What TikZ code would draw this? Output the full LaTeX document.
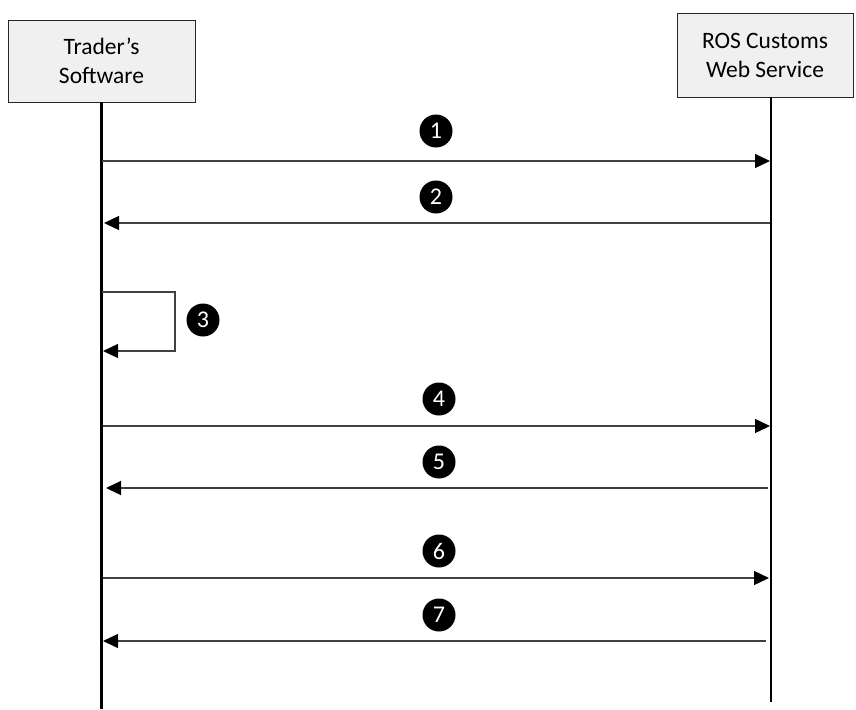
\documentclass[tikz,border=0pt]{standalone}
\usepackage{fontspec}
\setmainfont{Carlito}
\usetikzlibrary{arrows.meta,positioning}

\begin{document}
\begin{tikzpicture}[
    x=1pt, y=-1pt,
    font=\fontsize{23.5}{29}\selectfont,
    actor/.style={draw=black!85, fill=black!6, align=center, inner sep=0pt, line width=0.9pt},
    life/.style={line width=2.6pt},
    msg/.style={draw=black!75, line width=1.3pt, -{Triangle[length=15pt, width=14pt, black]}},
    num/.style={circle, fill=black, text=white, minimum size=33pt, inner sep=0pt,
                font=\fontsize{24}{24}\selectfont},
]
\useasboundingbox (0,0) rectangle (856,709);

% =====================  ACTORS  =====================
\node[actor, minimum width=187pt, minimum height=82pt] (trader) at (101.5,61) {Trader’s\\Software};
\node[actor, minimum width=176pt, minimum height=84pt] (ros)    at (765,55)   {ROS Customs\\Web Service};

\coordinate (traderend) at (101.5,709);
\coordinate (rosend)    at (771,702);
\draw[life] (trader.south) -- (traderend);
\draw[life] (ros.south -| rosend) -- (rosend);

% =====================  MESSAGES  =====================
\coordinate (a1) at (102,161);  \coordinate (b1) at (770,161);
\coordinate (a2) at (104,223);  \coordinate (b2) at (770,223);
\coordinate (a3) at (102,292);  \coordinate (b3) at (103,351);
\coordinate (a4) at (103,426);  \coordinate (b4) at (770,426);
\coordinate (a5) at (106,488);  \coordinate (b5) at (768,488);
\coordinate (a6) at (103,578);  \coordinate (b6) at (769,578);
\coordinate (a7) at (103,641);  \coordinate (b7) at (766,641);

\draw[msg] (a1) -- (b1);
\draw[msg] (b2) -- (a2);
\draw[msg] (a3) -- (175,292) -- (175,351) -- (b3);
\draw[msg] (a4) -- (b4);
\draw[msg] (b5) -- (a5);
\draw[msg] (a6) -- (b6);
\draw[msg] (b7) -- (a7);

% the numbered markers
\node[num] (n1) at (436,131) {1};
\node[num] (n2) at (436,197) {2};
\node[num] (n3) at (203,320) {3};
\node[num] (n4) at (439,399) {4};
\node[num] (n5) at (439,462) {5};
\node[num] (n6) at (439,551) {6};
\node[num] (n7) at (439,615) {7};

\end{tikzpicture}
\end{document}
